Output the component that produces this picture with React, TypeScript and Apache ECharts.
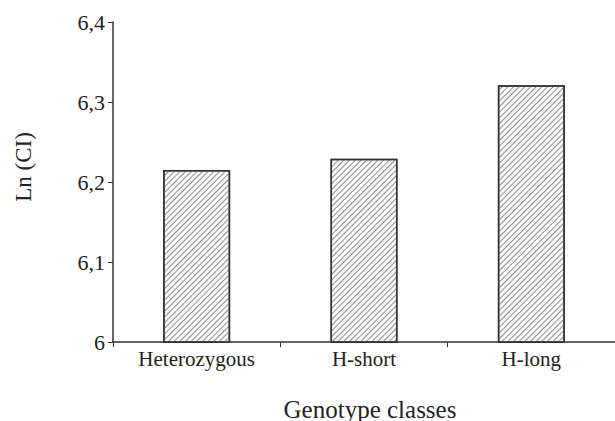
import React, { useEffect, useRef } from "react";
import * as echarts from "echarts";

const categories = ["Heterozygous", "H-short", "H-long"];
const lnCI = [6.215, 6.229, 6.321];
const yTicks = { min: 6, max: 6.4, interval: 0.1 };
const xTitle = "Genotype classes";
const yTitle = "Ln (CI)";

export default function App() {
  const ref = useRef<HTMLDivElement>(null);
  useEffect(() => {
    const chart = echarts.init(ref.current!, null, { renderer: "svg" });
    const font = "Liberation Serif";
    chart.setOption({
      animation: false,
      backgroundColor: "#fff",
      grid: { left: 113, right: -2, top: 22, bottom: 79 },
      xAxis: {
        type: "category",
        data: categories,
        boundaryGap: true,
        axisLine: { lineStyle: { color: "#333", width: 1.5 } },
        axisTick: { show: true, length: 5, lineStyle: { color: "#333" } },
        axisLabel: { color: "#222", fontFamily: font, fontSize: 21, margin: 6 },
      },
      yAxis: {
        type: "value",
        min: yTicks.min,
        max: yTicks.max,
        interval: yTicks.interval,
        splitLine: { show: false },
        axisLine: { show: true, lineStyle: { color: "#333", width: 1.5 } },
        axisTick: { show: true, length: 5, lineStyle: { color: "#333" } },
        axisLabel: {
          color: "#222",
          fontFamily: font,
          fontSize: 22,
          margin: 8,
          formatter: (v: number) => {
            const r = Math.round(v * 10) / 10;
            return Number.isInteger(r) ? String(r) : r.toFixed(1).replace(".", ",");
          },
        },
      },
      graphic: [
        {
          type: "text",
          x: 370,
          y: 409,
          style: {
            text: xTitle,
            fill: "#222",
            font: `25px "${font}"`,
            align: "center",
            verticalAlign: "middle",
          },
        },
        {
          type: "text",
          x: 23,
          y: 167,
          rotation: Math.PI / 2,
          style: {
            text: yTitle,
            fill: "#222",
            font: `23px "${font}"`,
            align: "center",
            verticalAlign: "middle",
          },
        },
      ],
      series: [
        {
          type: "bar",
          data: lnCI,
          barWidth: "40%",
          itemStyle: {
            color: "#fff",
            borderColor: "#333",
            borderWidth: 1.5,
            decal: {
              symbol: "rect",
              symbolSize: 1,
              color: "#888",
              backgroundColor: "#fff",
              dashArrayX: [1, 0],
              dashArrayY: [1, 2.5],
              rotation: -Math.PI / 4,
            },
          },
        },
      ],
    });
    return () => chart.dispose();
  }, []);
  return (
    <div
      ref={ref}
      style={{ position: "fixed", left: 0, top: 0, width: 615, height: 421 }}
    />
  );
}
